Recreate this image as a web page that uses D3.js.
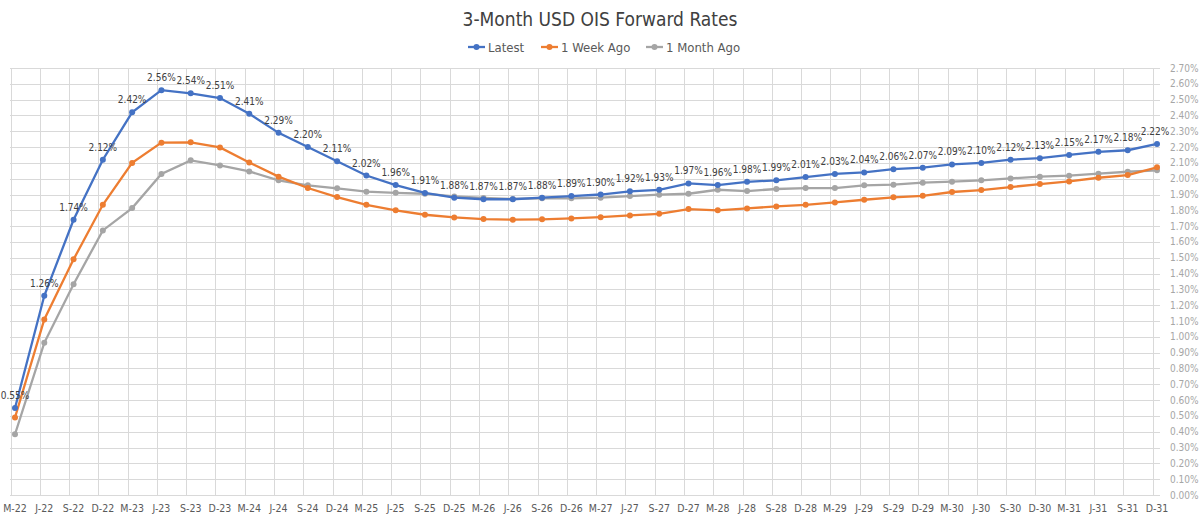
<!DOCTYPE html>
<html>
<head>
<meta charset="utf-8">
<script src="https://cdn.jsdelivr.net/npm/d3@7"></script>
<style>
  body { margin: 0; background: #fff; }
  svg { font-family: "DejaVu Sans Condensed", "Liberation Sans Narrow", Roboto, sans-serif; }
</style>
</head>
<body>
<svg id="chart" width="1200" height="520"></svg>
<script>
const months = ["M-22","J-22","S-22","D-22","M-23","J-23","S-23","D-23","M-24","J-24",
    "S-24","D-24","M-25","J-25","S-25","D-25","M-26","J-26","S-26","D-26",
    "M-27","J-27","S-27","D-27","M-28","J-28","S-28","D-28","M-29","J-29",
    "S-29","D-29","M-30","J-30","S-30","D-30","M-31","J-31","S-31","D-31"];

const latest = [0.55,1.26,1.74,2.12,2.42,2.56,2.54,2.51,2.41,2.29,
    2.20,2.11,2.02,1.96,1.91,1.88,1.87,1.87,1.88,1.89,
    1.90,1.92,1.93,1.97,1.96,1.98,1.99,2.01,2.03,2.04,
    2.06,2.07,2.09,2.10,2.12,2.13,2.15,2.17,2.18,2.22];

const weekAgo = [0.49,1.11,1.49,1.835,2.10,2.228,2.23,2.198,2.103,2.013,
    1.941,1.884,1.835,1.80,1.772,1.755,1.745,1.741,1.743,1.749,
    1.757,1.768,1.778,1.808,1.80,1.812,1.825,1.835,1.85,1.867,
    1.882,1.892,1.916,1.928,1.947,1.966,1.983,2.006,2.023,2.072];

const monthAgo = [0.384,0.962,1.333,1.673,1.814,2.03,2.116,2.084,2.046,1.99,
    1.958,1.939,1.918,1.911,1.905,1.888,1.878,1.872,1.876,1.876,
    1.88,1.89,1.899,1.905,1.93,1.922,1.935,1.941,1.941,1.958,
    1.962,1.975,1.981,1.99,2.002,2.013,2.019,2.032,2.044,2.053];

const yTicks = d3.range(0, 28).map(d => d / 10);

const series = [
    { name: "Latest", values: latest, color: "#4472C4" },
    { name: "1 Week Ago", values: weekAgo, color: "#ED7D31" },
    { name: "1 Month Ago", values: monthAgo, color: "#A5A5A5" }
];

const svg = d3.select("#chart");

var x = d3.scalePoint()
    .domain(months)
    .range([15, 1157]);

var y = d3.scaleLinear()
    .domain([0, 2.7])
    .range([495, 68]);

// horizontal grid
var grid = svg.append("g");
grid.selectAll("line.h")
    .data(yTicks)
    .enter()
    .append("line")
    .attr("x1", 10)
    .attr("x2", 1160)
    .attr("y1", d => Math.round(y(d)) + 0.5)
    .attr("y2", d => Math.round(y(d)) + 0.5)
    .attr("stroke", "#d9d9d9");

// vertical grid, sits a little left of each point
grid.selectAll("line.v")
    .data(months)
    .enter()
    .append("line")
    .attr("x1", d => Math.round(x(d) - 4.5) + 0.5)
    .attr("x2", d => Math.round(x(d) - 4.5) + 0.5)
    .attr("y1", y(2.7))
    .attr("y2", y(0))
    .attr("stroke", "#d9d9d9");

// right side value labels
svg.append("g")
    .selectAll("text")
    .data(yTicks)
    .enter()
    .append("text")
    .attr("x", 1170)
    .attr("y", d => y(d))
    .attr("dy", "0.35em")
    .attr("font-size", 10)
    .attr("fill", "#a6a6a6")
    .text(d => d.toFixed(2) + "%");

svg.append("g")
    .selectAll("text")
    .data(months)
    .enter()
    .append("text")
    .attr("x", d => x(d))
    .attr("y", 512)
    .attr("text-anchor", "middle")
    .attr("font-size", 10.5)
    .attr("fill", "#595959")
    .text(d => d);

var lineMaker = d3.line()
    .x((d, i) => x(months[i]))
    .y(d => y(d));

// draw oldest first so Latest is on top
series.slice().reverse().forEach(function(s) {
    var g = svg.append("g");
    g.append("path")
        .attr("fill", "none")
        .attr("stroke", s.color)
        .attr("stroke-width", 2.3)
        .attr("d", lineMaker(s.values));
    g.selectAll("circle")
        .data(s.values)
        .enter()
        .append("circle")
        .attr("r", 3)
        .attr("fill", s.color)
        .attr("cx", (d, i) => x(months[i]))
        .attr("cy", d => y(d));
});

// data labels for latest
svg.append("g")
    .selectAll("text")
    .data(latest)
    .enter()
    .append("text")
    .attr("x", (d, i) => x(months[i]) - (i === latest.length - 1 ? 2 : 0))
    .attr("y", d => y(d) - 9)
    .attr("text-anchor", "middle")
    .attr("font-size", 10)
    .attr("fill", "#404040")
    .text(d => d.toFixed(2) + "%");

// title
svg.append("text")
    .attr("x", 600)
    .attr("y", 26)
    .attr("text-anchor", "middle")
    .attr("font-size", 19)
    .attr("fill", "#404040")
    .text("3-Month USD OIS Forward Rates");

// legend
var legendX = [468, 541, 646];
var legend = svg.append("g")
    .selectAll("g")
    .data(series)
    .enter()
    .append("g")
    .attr("transform", (d, i) => "translate(" + legendX[i] + ",47)");
legend.append("line")
    .attr("x1", 0).attr("x2", 17)
    .attr("stroke", d => d.color)
    .attr("stroke-width", 2.3);
legend.append("circle")
    .attr("cx", 8.5)
    .attr("r", 3)
    .attr("fill", d => d.color);
legend.append("text")
    .attr("x", 20)
    .attr("dy", "0.35em")
    .attr("font-size", 13)
    .attr("fill", "#595959")
    .text(d => d.name);
</script>
</body>
</html>
